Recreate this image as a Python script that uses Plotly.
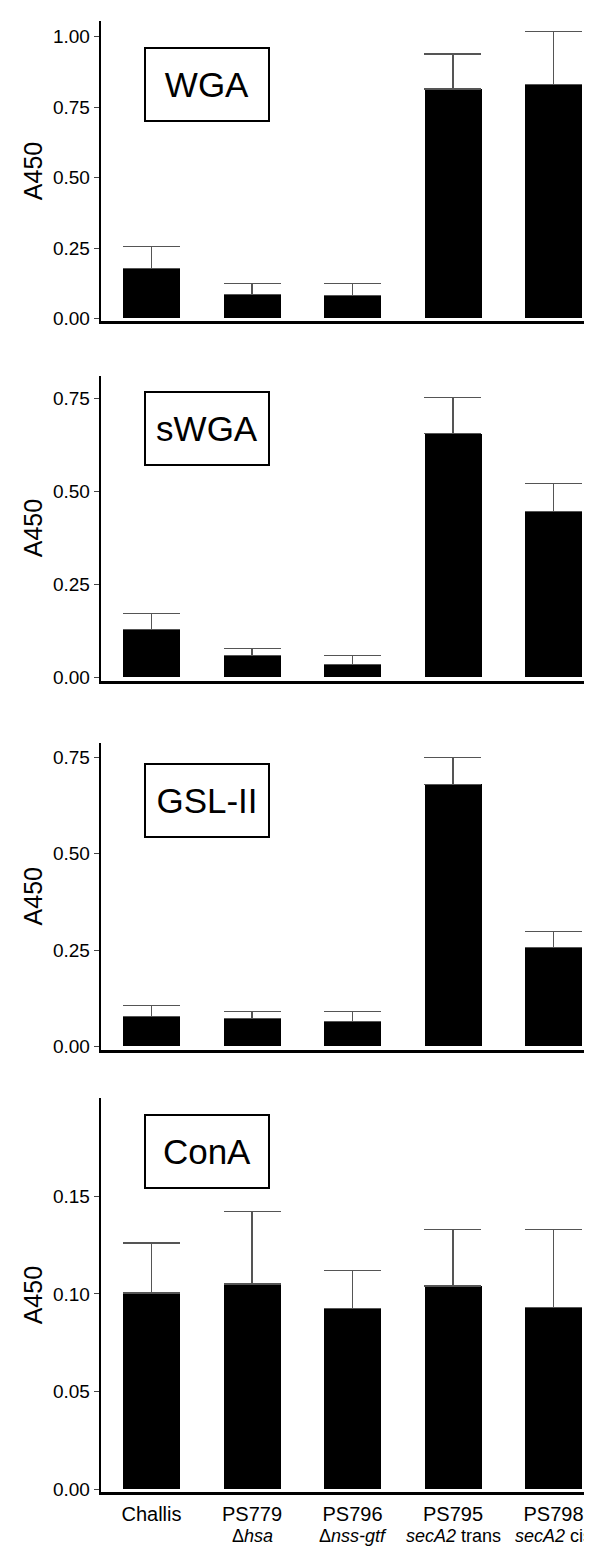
import plotly.graph_objects as go

# ---------------- data ----------------
strains = ["Challis", "PS779", "PS796", "PS795", "PS798"]
genotypes = ["", "Δ<i>hsa</i>", "Δ<i>nss-gtf</i>", "<i>secA2</i> trans", "<i>secA2</i> cis"]

lectins = ["WGA", "sWGA", "GSL-II", "ConA"]

wga_mean = [0.176, 0.086, 0.080, 0.815, 0.830]
wga_err = [0.080, 0.038, 0.044, 0.124, 0.190]

swga_mean = [0.129, 0.060, 0.034, 0.655, 0.447]
swga_err = [0.043, 0.018, 0.025, 0.098, 0.075]

gsl_mean = [0.079, 0.073, 0.066, 0.679, 0.256]
gsl_err = [0.027, 0.017, 0.026, 0.069, 0.043]

cona_mean = [0.1004, 0.105, 0.0926, 0.104, 0.093]
cona_err = [0.0256, 0.037, 0.0194, 0.029, 0.040]

y_ticks = [
    [0.00, 0.25, 0.50, 0.75, 1.00],
    [0.00, 0.25, 0.50, 0.75],
    [0.00, 0.25, 0.50, 0.75],
    [0.00, 0.05, 0.10, 0.15],
]

means = [wga_mean, swga_mean, gsl_mean, cona_mean]
errs = [wga_err, swga_err, gsl_err, cona_err]

# ---------------- layout constants ----------------
W, H = 592, 1548
FONT = "Liberation Sans, Arial, Helvetica, sans-serif"

# pixel positions (top, bottom) of each panel's plotting area
panel_px = [(13, 315), (370, 676), (739, 1047), (1096, 1492)]
y_ranges = [(-0.0106, 1.0565), (-0.008, 0.81), (-0.0077, 0.786), (-0.0015, 0.2)]
box_center = [0.83, 0.668, 0.637, 0.173]

x_left_px = 92.7
x_range = (-0.5055, 4.4627)
bar_width = 0.567


def yfrac(px):
    return 1 - px / H


fig = go.Figure()
xpos = list(range(len(strains)))

for i in range(4):
    ax = "" if i == 0 else str(i + 1)
    fig.add_trace(go.Bar(
        x=xpos, y=means[i], width=bar_width,
        marker=dict(color="black", line=dict(width=0)),
        error_y=dict(type="data", symmetric=False, array=errs[i],
                     arrayminus=[0] * len(errs[i]),
                     color="#555555", thickness=1.2, width=28.5),
        xaxis="x" + ax, yaxis="y" + ax, showlegend=False,
    ))

layout = dict(
    width=W, height=H,
    margin=dict(l=0, r=0, t=0, b=0),
    paper_bgcolor="white", plot_bgcolor="white",
    font=dict(family=FONT, color="black"),
    bargap=0,
)

annotations = []
for i in range(4):
    sfx = "" if i == 0 else str(i + 1)
    top, bot = panel_px[i]
    dom = [yfrac(bot), yfrac(top)]
    last = (i == 3)
    layout["xaxis" + sfx] = dict(
        domain=[x_left_px / W, 1], range=list(x_range), anchor="y" + sfx,
        showline=True, linecolor="black", linewidth=2.5,
        showgrid=False, zeroline=False, ticks="",
        tickmode="array", tickvals=xpos, ticktext=strains,
        showticklabels=last, tickfont=dict(size=20, family=FONT, color="black"),
        ticklabelstandoff=2,
    )
    layout["yaxis" + sfx] = dict(
        domain=dom, range=list(y_ranges[i]), anchor="x" + sfx,
        showline=True, linecolor="black", linewidth=2,
        showgrid=False, zeroline=False,
        ticks="outside", ticklen=5, tickwidth=1, tickcolor="#444444",
        tickmode="array", tickvals=y_ticks[i],
        ticktext=[f"{v:.2f}" for v in y_ticks[i]],
        tickfont=dict(size=19, family=FONT, color="black"),
    )
    # axis title
    annotations.append(dict(
        text="A450", textangle=-90, xref="paper", yref="paper",
        x=25 / W, y=(dom[0] + dom[1]) / 2, xanchor="center", yanchor="middle",
        showarrow=False, font=dict(size=25, family=FONT, color="black"),
    ))
    # lectin box
    annotations.append(dict(
        text=lectins[i], xref="paper", yref="y" + sfx,
        x=198.5 / W, y=box_center[i], xanchor="center", yanchor="middle",
        showarrow=False, width=122, height=71, borderpad=0,
        bordercolor="black", borderwidth=2, bgcolor="white",
        font=dict(size=35, family=FONT, color="black"),
    ))

# second line of category labels
for j, g in enumerate(genotypes):
    if g:
        annotations.append(dict(
            text=g, xref="x4", yref="paper", x=xpos[j], y=yfrac(1536),
            xanchor="center", yanchor="middle", showarrow=False,
            font=dict(size=18, family=FONT, color="black"),
        ))

layout["annotations"] = annotations
fig.update_layout(**layout)
fig.write_html("out.html")
